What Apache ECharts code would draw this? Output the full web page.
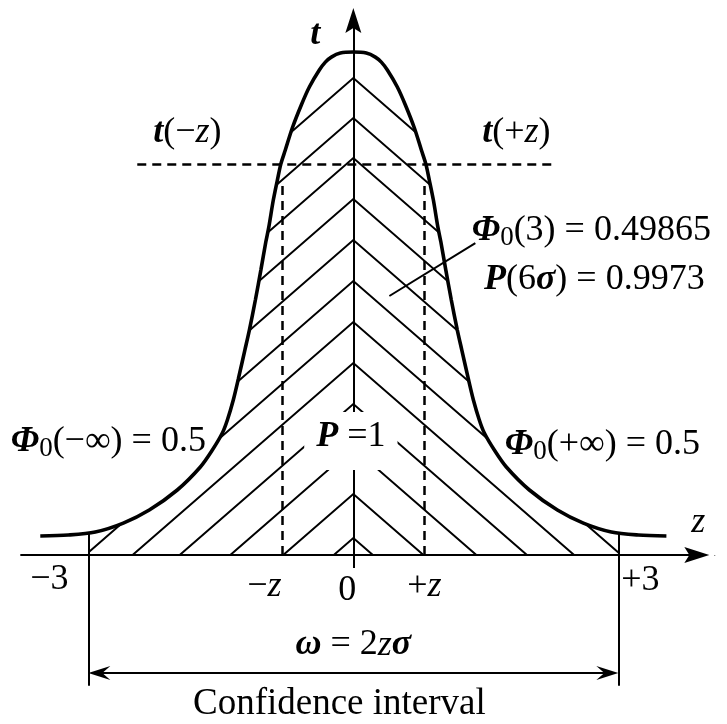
<!DOCTYPE html>
<html>
<head>
<meta charset="utf-8">
<script src="https://cdn.jsdelivr.net/npm/echarts@6/dist/echarts.min.js"></script>
<style>
  html, body { margin: 0; padding: 0; background: #fff; }
  #chart { width: 727px; height: 724px; }
</style>
</head>
<body>
<div id="chart"></div>
<script>
// ---- data -------------------------------------------------------------
// Outline of the distribution curve, [z, t]
const curve = [
  [-3.544, 0.0151], [-3.227, 0.0159], [-2.921, 0.0183], [-2.604, 0.0254],
  [-2.310, 0.0358], [-1.993, 0.0517], [-1.732, 0.0700], [-1.596, 0.0835],
  [-1.483, 0.0970], [-1.426, 0.1074], [-1.359, 0.1233], [-1.302, 0.1400],
  [-1.228, 0.1630], [-1.177, 0.1789], [-1.109, 0.2028], [-1.047, 0.2266],
  [-0.991, 0.2489], [-0.957, 0.2608], [-0.906, 0.2823], [-0.860, 0.2982],
  [-0.821, 0.3109], [-0.770, 0.3221], [-0.691, 0.3396], [-0.589, 0.3579],
  [-0.498, 0.3722], [-0.385, 0.3857], [-0.317, 0.3920], [-0.249, 0.3960],
  [-0.147, 0.3992], [0, 0.4000],
  [0.147, 0.3992], [0.249, 0.3960], [0.317, 0.3920], [0.385, 0.3857],
  [0.498, 0.3722], [0.589, 0.3579], [0.691, 0.3396], [0.770, 0.3221],
  [0.821, 0.3109], [0.860, 0.2982], [0.906, 0.2823], [0.957, 0.2608],
  [0.991, 0.2489], [1.047, 0.2266], [1.109, 0.2028], [1.177, 0.1789],
  [1.228, 0.1630], [1.302, 0.1400], [1.359, 0.1233], [1.426, 0.1074],
  [1.483, 0.0970], [1.596, 0.0835], [1.732, 0.0700], [1.993, 0.0517],
  [2.310, 0.0358], [2.604, 0.0254], [2.921, 0.0183], [3.227, 0.0159],
  [3.544, 0.0151]
];

// Heights (t) where the hatching chevrons meet the t axis, and their slope
const hatchApex = [0.3793, 0.3475, 0.3157, 0.2831, 0.2505, 0.2179,
                   0.1853, 0.1527, 0.1201, 0.0851, 0.0485, 0.0135];
const hatchSlope = 0.0611;

// Limits of the interval and the ±z level
const intervalLimits = [-3, 3];
const zLevel = 0.804;
const tLevel = 0.3109;

// Tick marks along the z axis
const tickValues = [-3, -zLevel, 0, zLevel, 3];
const tickLabels = ['{r|−3}', '{r|−}{i|z}', '{r|0}', '{r|+}{i|z}', '{r|+3}'];

// Annotation texts
const annotations = {
  tAxis:   '{bi|t}',
  zAxis:   '{i|z}',
  tMinus:  '{bi|t}{r|(−}{i|z}{r|)}',
  tPlus:   '{bi|t}{r|(+}{i|z}{r|)}',
  phi3:    '{bi|Φ}{sub|0}{r|(3) = 0.49865}',
  p6s:     '{bi|P}{r|(6}{bi|σ}{r|) = 0.9973}',
  phiNeg:  '{bi|Φ}{sub|0}{r|(−∞) = 0.5}',
  phiPos:  '{bi|Φ}{sub|0}{r|(+∞) = 0.5}',
  pOne:    '{bi|P}{r| =1}',
  omega:   '{bi|ω}{r| = 2}{i|z}{bi|σ}',
  caption: '{c|Confidence interval}'
};

// ---- layout -----------------------------------------------------------
const annotationPos = {
  tAxis:  [-0.43, 0.4135],
  zAxis:  [3.906, 0.0262],
  tMinus: [-1.879, 0.3356],
  tPlus:  [1.845, 0.3356],
  phi3:   [2.694, 0.2577],
  p6s:    [2.728, 0.2187],
  phiNeg: [-2.774, 0.0899],
  phiPos: [2.819, 0.0875],
  pOne:   [-0.028, 0.0907],
  omega:  [0, -0.0716],
  caption:[-0.158, -0.1185]
};
const tickLabelPos = [[-3.44, -0.0199], [-1.008, -0.0254], [-0.068, -0.0286],
                      [0.804, -0.0254], [3.25, -0.0207]];

const serif = 'Liberation Serif';
const base = { fontFamily: serif, fontSize: 36, lineHeight: 40, color: '#000',
               textBorderWidth: 0, verticalAlign: 'middle' };
const rich = {
  r:   Object.assign({}, base),
  i:   Object.assign({}, base, { fontStyle: 'italic' }),
  bi:  Object.assign({}, base, { fontStyle: 'italic', fontWeight: 'bold' }),
  sub: { fontFamily: serif, fontSize: 27, lineHeight: 27, color: '#000', verticalAlign: 'bottom' },
  c:   Object.assign({}, base, { fontSize: 37 })
};

// linear lookup of the curve height at a given z
function tAt(z) {
  for (let k = 0; k < curve.length - 1; k++) {
    const a = curve[k], b = curve[k + 1];
    if (z >= a[0] && z <= b[0]) {
      return a[1] + (b[1] - a[1]) * (z - a[0]) / (b[0] - a[0]);
    }
  }
  return 0;
}

const lo = intervalLimits[0], hi = intervalLimits[1];

// white cover outside the hatched region (above the curve and beyond the limits)
const maskPts = [[-4.3, 0.46], [-4.3, 0], [lo, 0], [lo, tAt(lo)]]
  .concat(curve.filter(p => p[0] > lo && p[0] < hi))
  .concat([[hi, tAt(hi)], [hi, 0], [4.4, 0], [4.4, 0.46]]);

const hatchLines = hatchApex.map(ta => ({
  coords: [[-ta / hatchSlope, 0], [0, ta], [ta / hatchSlope, 0]]
}));

// arrow heads (square boxes; the extra empty points keep the head narrow)
const axisArrow = 'path://M8,0 L16,25 L8,20 L0,25 Z M-4.5,0 L-4.5,0.01 M20.5,0 L20.5,0.01';
const spanArrow = 'path://M7,0 L14,22 L7,14 L0,22 Z M-4,0 L-4,0.01 M18,0 L18,0.01';
const axisArrowSize = 25, spanArrowSize = 22;
// the heads are centred on the line ends, so the lines stop half a head short
const pxPerZ = 727 / 8.23, pxPerT = 724 / 0.5758;
const spanEnd = spanArrowSize / 2 / pxPerZ;
const axisEndZ = 4.03 - axisArrowSize / 2 / pxPerZ;
const axisEndT = 0.435 - axisArrowSize / 2 / pxPerT;

function textItem(pos, text, extra) {
  return Object.assign({ value: pos, label: { formatter: text } }, extra || {});
}

const labelItems = Object.keys(annotations).map(k => {
  if (k === 'pOne') {
    return textItem(annotationPos[k], annotations[k], {
      label: { formatter: annotations[k], backgroundColor: '#fff', padding: [5, 12, 13, 12] }
    });
  }
  return textItem(annotationPos[k], annotations[k]);
}).concat(tickValues.map((v, idx) => textItem(tickLabelPos[idx], tickLabels[idx])));

const chart = echarts.init(document.getElementById('chart'));
chart.setOption({
  animation: false,
  backgroundColor: '#fff',
  grid: { left: 0, right: 0, top: 0, bottom: 0 },
  xAxis: { type: 'value', min: -4.0, max: 4.23, show: false },
  yAxis: { type: 'value', min: -0.1344, max: 0.4414, show: false },
  series: [
    {
      // hatching chevrons
      type: 'lines', coordinateSystem: 'cartesian2d', polyline: true, z: 1,
      silent: true,
      lineStyle: { color: '#000', width: 2, opacity: 1 },
      data: hatchLines
    },
    {
      // cover that trims the hatching to the area under the curve
      type: 'custom', z: 2, silent: true,
      data: [0],
      renderItem: (params, api) => ({
        type: 'polygon',
        shape: { points: maskPts.map(p => api.coord(p)) },
        style: { fill: '#fff' }
      })
    },
    {
      type: 'line', z: 5, silent: true,
      data: curve, smooth: 0.3, symbol: 'none',
      lineStyle: { color: '#000', width: 3.6 }
    },
    {
      // axes with arrow heads
      type: 'lines', coordinateSystem: 'cartesian2d', z: 6, silent: true,
      symbol: ['none', axisArrow], symbolSize: axisArrowSize,
      lineStyle: { color: '#000', width: 2, opacity: 1 },
      itemStyle: { color: '#000' },
      data: [
        { coords: [[-3.77, 0], [axisEndZ, 0]] },
        { coords: [[0, -0.0103], [0, axisEndT]] }
      ]
    },
    {
      // interval limits and the pointer line
      type: 'lines', coordinateSystem: 'cartesian2d', z: 6, silent: true,
      lineStyle: { color: '#000', width: 2, opacity: 1 },
      data: [
        { coords: [[lo, tAt(lo)], [lo, -0.104]] },
        { coords: [[hi, tAt(hi)], [hi, -0.104]] },
        { coords: [[0.408, 0.206], [1.381, 0.2481]] }
      ]
    },
    {
      // width of the confidence interval
      type: 'lines', coordinateSystem: 'cartesian2d', z: 6, silent: true,
      symbol: [spanArrow, spanArrow], symbolSize: spanArrowSize,
      lineStyle: { color: '#000', width: 2, opacity: 1 },
      data: [{ coords: [[lo + spanEnd, -0.0938], [hi - spanEnd, -0.0938]] }]
    },
    {
      // dashed level lines
      type: 'lines', coordinateSystem: 'cartesian2d', z: 6, silent: true,
      lineStyle: { color: '#000', width: 2.5, type: [9, 6], opacity: 1 },
      data: [
        { coords: [[-2.446, tLevel], [2.264, tLevel]] },
        { coords: [[-zLevel, 0], [-zLevel, 0.297]] },
        { coords: [[zLevel, 0], [zLevel, 0.2982]] }
      ]
    },
    {
      // texts
      type: 'scatter', z: 10, silent: true,
      symbolSize: 1, itemStyle: { color: 'rgba(0,0,0,0)', opacity: 1 },
      label: {
        show: true, position: 'inside', align: 'center', verticalAlign: 'middle',
        color: '#000', opacity: 1, textBorderWidth: 0,
        fontFamily: serif, fontSize: 36, rich: rich
      },
      data: labelItems
    }
  ]
});
</script>
</body>
</html>
